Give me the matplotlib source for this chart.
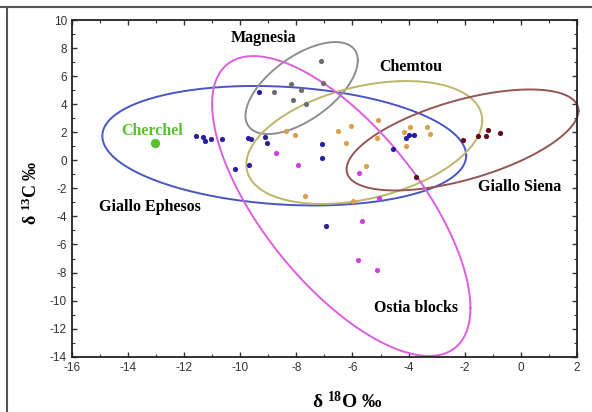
import numpy as np
import matplotlib
matplotlib.use("Agg")
import matplotlib.pyplot as plt
from matplotlib.ticker import MultipleLocator
from matplotlib.lines import Line2D

plt.rcParams['font.family'] = ['Liberation Sans', 'DejaVu Sans']
plt.rcParams['axes.unicode_minus'] = False

# isotope data (d18O, d13C)
ephesos_x = [-11.57, -11.32, -11.26, -11.04, -10.64, -9.73, -9.63, -9.10, -9.06, -9.32,
             -9.68, -10.18, -7.09, -7.09, -6.95, -4.10, -3.98, -3.82, -4.57]
ephesos_y = [1.73, 1.68, 1.40, 1.50, 1.50, 1.59, 1.50, 1.68, 1.21, 4.89,
             -0.34, -0.64, 1.14, 0.14, -4.68, 1.57, 1.80, 1.80, 0.78]

magnesia_x = [-8.80, -8.18, -7.82, -8.12, -7.64, -7.11, -7.04]
magnesia_y = [4.89, 5.44, 5.01, 4.30, 4.01, 7.08, 5.51]

chemtou_x = [-8.38, -8.05, -7.69, -6.51, -6.06, -5.09, -6.24, -5.13, -5.52,
             -4.18, -3.94, -3.33, -3.23, -4.08, -5.98]
chemtou_y = [2.11, 1.80, -2.54, 2.09, 2.44, 2.87, 1.21, 1.57, -0.38,
             2.00, 2.35, 2.35, 1.87, 1.02, -2.87]

siena_x = [-1.54, -1.26, -1.17, -0.76, -3.74, -2.07]
siena_y = [1.75, 1.73, 2.16, 1.92, -1.17, 1.45]

ostia_x = [-8.71, -7.93, -5.76, -5.05, -5.67, -5.80, -5.14]
ostia_y = [0.50, -0.37, -0.88, -2.72, -4.33, -7.14, -7.82]

cherchel_x = [-13.05]
cherchel_y = [1.25]

# ellipses: centre x, centre y, half width, half height, correlation
ellipses = {
    'ephesos': (-8.43, 1.04, 6.48, 4.26, -0.163),
    'magnesia': (-7.81, 5.15, 2.0, 3.28, 0.6),
    'chemtou': (-5.58, 1.27, 4.2, 4.38, 0.36),
    'siena': (-2.08, 1.45, 4.13, 3.6, 0.58),
    'ostia': (-6.4, -3.26, 4.6, 10.69, -0.68),
}


def ellipse_xy(cx, cy, hx, hy, rho, n=300):
    t = np.linspace(0, 2 * np.pi, n)
    x = cx + hx * np.cos(t)
    y = cy + hy * (rho * np.cos(t) + np.sqrt(1 - rho ** 2) * np.sin(t))
    return x, y


fig = plt.figure(figsize=(5.92, 4.12), dpi=100)
ax = fig.add_axes([0.1211, 0.1342, 0.8537, 0.8172])

ell_colors = {'ephesos': '#4756c4', 'magnesia': '#8e8e8e', 'chemtou': '#bdb56a',
              'siena': '#955555', 'ostia': '#dd5ee0'}
for k, p in ellipses.items():
    ex, ey = ellipse_xy(*p)
    ax.plot(ex, ey, color=ell_colors[k], lw=1.4, clip_on=False, zorder=2)

ms = 14
ax.scatter(ephesos_x, ephesos_y, s=ms, color='#2a1f9e', zorder=3, lw=0)
ax.scatter(magnesia_x, magnesia_y, s=ms, color='#6e6e6e', zorder=3, lw=0)
ax.scatter(chemtou_x, chemtou_y, s=ms, color='#d9a04e', zorder=3, lw=0)
ax.scatter(siena_x, siena_y, s=ms, color='#64091a', zorder=3, lw=0)
ax.scatter(ostia_x, ostia_y, s=ms, color='#c944dc', zorder=3, lw=0)
ax.scatter(cherchel_x, cherchel_y, s=45, color='#55c22e', zorder=3, lw=0)

serif = dict(family=['Liberation Serif', 'DejaVu Serif'], fontweight='bold', fontsize=11.5)
ax.text(-9.17, 8.72, 'Magnesia', ha='center', va='center', **serif)
ax.text(-3.92, 6.65, 'Chemtou', ha='center', va='center', **serif)
ax.text(-0.05, -1.9, 'Giallo Siena', ha='center', va='center', **serif)
ax.text(-13.2, -3.33, 'Giallo Ephesos', ha='center', va='center', **serif)
ax.text(-3.75, -10.55, 'Ostia blocks', ha='center', va='center', **serif)
ax.text(-13.13, 2.11, 'Cherchel', ha='center', va='center', color='#55c22e', **serif)

ax.set_xlim(-16, 2)
ax.set_ylim(-14, 10)
ax.xaxis.set_major_locator(MultipleLocator(2))
ax.xaxis.set_minor_locator(MultipleLocator(1))
ax.yaxis.set_major_locator(MultipleLocator(2))
ax.yaxis.set_minor_locator(MultipleLocator(1))
ax.tick_params(which='both', direction='in', top=True, right=True,
               labelsize=8.5, labelcolor='#333333', color='#333333')
ax.tick_params(which='major', length=3.5, width=1)
ax.tick_params(which='minor', length=2.5, width=0.8)
for s in ax.spines.values():
    s.set_linewidth(1.3)
    s.set_color('#222222')

ax.set_xlabel(r'δ $\mathregular{^{18}}$O ‰', family=['Liberation Serif', 'DejaVu Serif'],
              fontweight='bold', fontsize=14)
ax.set_ylabel(r'δ $\mathregular{^{13}}$C ‰', family=['Liberation Serif', 'DejaVu Serif'],
              fontweight='bold', fontsize=13)
ax.xaxis.set_label_coords(0.545, -0.103)
ax.yaxis.set_label_coords(-0.06, 0.486)

# frame of the original scan
fig.add_artist(Line2D([0, 1], [0.983, 0.983], color='#555555', lw=1.5, transform=fig.transFigure))
fig.add_artist(Line2D([0.012, 0.012], [0, 0.983], color='#555555', lw=1.5, transform=fig.transFigure))

fig.savefig('out.png', dpi=100)
